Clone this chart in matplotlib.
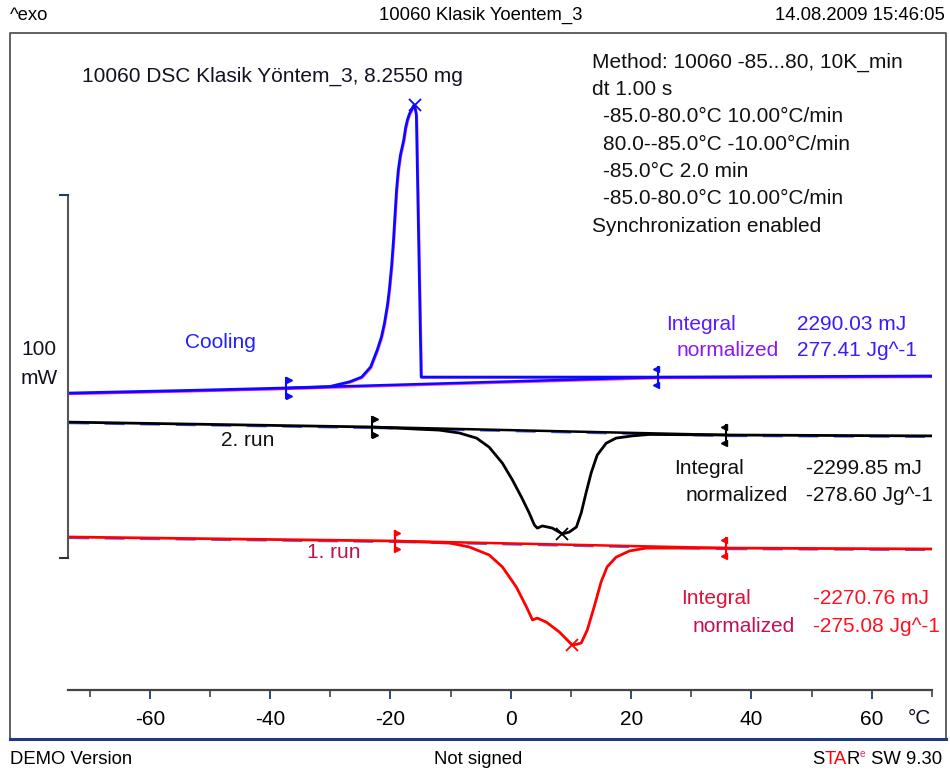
import numpy as np
import matplotlib
matplotlib.use("Agg")
import matplotlib.pyplot as plt
import matplotlib.transforms as mtransforms
from matplotlib import font_manager
from matplotlib.lines import Line2D

# temperature (°C) and heat flow (mW, curves stacked with their display offsets)
cool_T = [-73.6, -51.7, -37.3, -30.1, -26.8, -24.8, -23.3, -22.2, -21.5, -21.0,
          -20.5, -20.2, -19.8, -19.5, -19.25, -19.0, -18.7, -18.35, -17.8, -17.5,
          -17.2, -16.85, -16.5, -16.2, -16.0, -15.7, -14.9, -1.9, 24.5, 69.8]
cool_mW = [81.8, 82.6, 83.2, 83.6, 84.9, 86.2, 89.0, 93.7, 97.3, 101.1,
           106.1, 110.2, 117.1, 124.0, 130.9, 137.7, 143.3, 147.4, 151.5, 154.8,
           157.0, 158.7, 159.8, 160.9, 161.2, 158.4, 86.2, 86.2, 86.2, 86.5]

run2_T = [-73.6, -23.0, -11.9, -8.55, -5.7, -3.6, -1.4, 0.25, 1.75, 3.05, 3.9,
          4.4, 5.25, 6.9, 8.55, 9.7, 10.9, 11.7, 12.5, 13.35, 14.35, 15.85,
          17.5, 20.15, 23.0, 35.8, 69.8]
run2_mW = [73.8, 72.45, 71.6, 70.8, 69.4, 66.9, 62.5, 57.9, 53.2, 48.8, 45.5,
           44.6, 45.2, 44.6, 43.0, 43.5, 44.9, 48.8, 54.3, 59.8, 64.7, 68.0,
           69.4, 70.0, 70.4, 70.25, 70.0]

run1_T = [-73.6, -51.7, -19.3, -10.2, -6.9, -3.6, -1.4, 0.9, 2.6, 3.6, 4.4,
          5.9, 8.05, 10.2, 11.0, 11.7, 12.7, 13.85, 15.0, 16.0, 17.5, 19.7, 22.5,
          35.8, 69.8]
run1_mW = [42.15, 41.7, 41.05, 40.5, 39.4, 37.2, 33.9, 28.4, 22.9, 19.3, 19.8,
           18.7, 16.0, 12.4, 12.6, 12.95, 16.5, 22.9, 29.75, 33.9, 36.6, 38.3, 39.1,
           39.1, 38.85]

# integration limits (°C)
cool_lim = [-37.3, 24.5]
run2_lim = [-23.0, 35.8]
run1_lim = [-19.3, 35.8]

integrals = {
    "cool": ["2290.03 mJ", "277.41 Jg^-1"],
    "run2": ["-2299.85 mJ", "-278.60 Jg^-1"],
    "run1": ["-2270.76 mJ", "-275.08 Jg^-1"],
}

method_lines = [
    "Method: 10060 -85...80, 10K_min",
    "dt 1.00 s",
    "-85.0-80.0°C 10.00°C/min",
    "80.0--85.0°C -10.00°C/min",
    "-85.0°C 2.0 min",
    "-85.0-80.0°C 10.00°C/min",
    "Synchronization enabled",
]

plt.rcParams["font.family"] = ["Liberation Sans", "DejaVu Sans"]
plt.rcParams["axes.unicode_minus"] = False

names = {f.name for f in font_manager.fontManager.ttflist}
if "Liberation Sans Narrow" in names:
    narrow, nsize = ["Liberation Sans Narrow", "DejaVu Sans"], 15.5
else:
    narrow, nsize = ["Liberation Sans", "DejaVu Sans"], 13.3

W, H = 950, 774


def fx(px):
    return px / W


def fy(py):
    return 1 - py / H


fig = plt.figure(figsize=(W / 100, H / 100), dpi=100)
fig.patch.set_facecolor("white")

# outer frame
fig.add_artist(Line2D([fx(10), fx(10), fx(946), fx(946)], [fy(739), fy(33), fy(33), fy(739)],
                      color="#555555", lw=1.3))
fig.add_artist(Line2D([fx(10), fx(946)], [fy(739), fy(739)], color="#1f3a80", lw=2.2))

ax = fig.add_axes([fx(68), fy(690), (932 - 68) / W, (690 - 33) / H])
ax.set_xlim(-73.6, 69.8)
ax.set_ylim(0, 181.0)
ax.patch.set_visible(False)
for s in ["top", "right", "left"]:
    ax.spines[s].set_visible(False)
ax.spines["bottom"].set_color("#444444")
ax.spines["bottom"].set_linewidth(1.6)
ax.set_yticks([])
ax.set_xticks([-60, -40, -20, 0, 20, 40, 60])
ax.set_xticks(np.arange(-70, 71, 10), minor=True)
ax.tick_params(axis="x", which="major", length=6.5, width=1.3, color="#1f3a6e",
               pad=8, labelsize=15)
ax.tick_params(axis="x", which="minor", length=5, width=1.1, color="#333333")

# 1 px shifted copy of the data transform, used for the colour fringes
fringe = ax.transData + mtransforms.ScaledTranslation(1 / 100, -1 / 100, fig.dpi_scale_trans)


def limit_mark(T, xs, ys, color, side):
    y = np.interp(T, xs, ys)
    ax.plot([T, T], [y - 2.8, y + 2.8], color=color, lw=1.5, clip_on=False)
    m = ">" if side == 0 else "<"
    dx = 0.35 if side == 0 else -0.35
    ax.plot([T + dx, T + dx], [y - 2.1, y + 2.1], ls="none", marker=m, ms=4,
            color=color, clip_on=False)


def draw_run(xs, ys, lim, color, fringe_color, fringe_dashed):
    xs = np.asarray(xs)
    ys = np.asarray(ys)
    b0 = np.interp(lim[0], xs, ys)
    b1 = np.interp(lim[1], xs, ys)
    # fringe under the flat parts and the integration baseline
    kw = dict(color=fringe_color, lw=1.6, transform=fringe, alpha=0.8)
    if fringe_dashed:
        kw["dashes"] = (9, 7)
    left = xs <= lim[0]
    right = xs >= lim[1]
    ax.plot(np.r_[xs[left], lim[0]], np.r_[ys[left], b0], **kw)
    ax.plot(np.r_[lim[1], xs[right]], np.r_[b1, ys[right]], **kw)
    ax.plot(lim, [b0, b1], **kw)
    ax.plot(lim, [b0, b1], color=color, lw=1.8)
    ax.plot(xs, ys, color=color, lw=2.0, solid_joinstyle="round")
    limit_mark(lim[0], xs, ys, color, 0)
    limit_mark(lim[1], xs, ys, color, 1)


draw_run(cool_T, cool_mW, cool_lim, "#0a0aff", "#ff00ff", False)
ax.plot(cool_T, cool_mW, color="#ff00ff", lw=1.2, transform=fringe, alpha=0.6, zorder=1)
draw_run(run2_T, run2_mW, run2_lim, "black", "#2040ff", True)
draw_run(run1_T, run1_mW, run1_lim, "#ff0000", "#2040ff", True)

# peak markers
i = int(np.argmax(cool_mW))
ax.plot(cool_T[i], cool_mW[i], marker="x", ms=8, mew=1.3, color="#0a0aff")
i = int(np.argmin(run2_mW))
ax.plot(run2_T[i], run2_mW[i], marker="x", ms=8, mew=1.3, color="black")
i = int(np.argmin(run1_mW))
ax.plot(run1_T[i], run1_mW[i], marker="x", ms=8, mew=1.3, color="#ff0000")

# 100 mW scale bar
x0 = ax.get_xlim()[0]
y0 = 36.4
ax.plot([x0, x0], [y0, y0 + 100], color="#555555", lw=1.5, clip_on=False)
ax.plot([x0 - 1.3, x0], [y0 + 100, y0 + 100], color="#1f3a6e", lw=1.5, clip_on=False)
ax.plot([x0 - 1.3, x0], [y0, y0], color="#333333", lw=1.5, clip_on=False)
fig.text(fx(39), fy(349), "100", ha="center", va="center", fontsize=15, color="#111122")
fig.text(fx(39), fy(378), "mW", ha="center", va="center", fontsize=15, color="#111122")
fig.text(fx(919), fy(718), "°C", ha="center", va="center", fontsize=15, color="#111122")

# header / footer
fig.text(fx(10), fy(15), "^exo", ha="left", va="center", fontsize=nsize, family=narrow)
fig.text(fx(481), fy(15), "10060 Klasik Yoentem_3", ha="center", va="center",
         fontsize=nsize, family=narrow)
fig.text(fx(945), fy(15), "14.08.2009 15:46:05", ha="right", va="center",
         fontsize=nsize, family=narrow)
fig.text(fx(10), fy(759), "DEMO Version", ha="left", va="center", fontsize=nsize, family=narrow)
fig.text(fx(478), fy(759), "Not signed", ha="center", va="center", fontsize=nsize, family=narrow)

renderer = fig.canvas.get_renderer()
x = 812
for s, c, size, dy in [("S", "black", nsize, 0), ("TA", "#ff0000", nsize, 0),
                       ("R", "black", nsize, 0), ("e", "#ff2050", nsize * 0.55, -5),
                       (" SW 9.30", "black", nsize, 0)]:
    t = fig.text(fx(x), fy(759 + dy), s, ha="left", va="center", fontsize=size,
                 family=narrow, color=c)
    x += t.get_window_extent(renderer).width

# sample / method annotations
fig.text(fx(82), fy(76), "10060 DSC Klasik Yöntem_3, 8.2550 mg", ha="left", va="center",
         fontsize=15, color="#111122")
for k, line in enumerate(method_lines):
    left = 603 if 2 <= k <= 5 else 592
    fig.text(fx(left), fy(62 + 27.4 * k), line, ha="left", va="center", fontsize=15,
             color="#111111")

fig.text(fx(185), fy(342), "Cooling", ha="left", va="center", fontsize=15, color="#2020ff")
fig.text(fx(221), fy(440), "2. run", ha="left", va="center", fontsize=15, color="#111111")
fig.text(fx(307), fy(552), "1. run", ha="left", va="center", fontsize=15, color="#c0104a")

fig.text(fx(666), fy(324), "Integral", ha="left", va="center", fontsize=15, color="#5a1aff")
fig.text(fx(677), fy(351), "normalized", ha="left", va="center", fontsize=15, color="#8a1aef")
fig.text(fx(797), fy(324), integrals["cool"][0], ha="left", va="center", fontsize=15, color="#3a1aff")
fig.text(fx(797), fy(351), integrals["cool"][1], ha="left", va="center", fontsize=15, color="#3a1aff")

fig.text(fx(674), fy(468), "Integral", ha="left", va="center", fontsize=15, color="#111111")
fig.text(fx(686), fy(496), "normalized", ha="left", va="center", fontsize=15, color="#111111")
fig.text(fx(806), fy(468), integrals["run2"][0], ha="left", va="center", fontsize=15, color="#111111")
fig.text(fx(806), fy(496), integrals["run2"][1], ha="left", va="center", fontsize=15, color="#111111")

fig.text(fx(681), fy(599), "Integral", ha="left", va="center", fontsize=15, color="#e0103a")
fig.text(fx(693), fy(627), "normalized", ha="left", va="center", fontsize=15, color="#c0105a")
fig.text(fx(813), fy(599), integrals["run1"][0], ha="left", va="center", fontsize=15, color="#ff1020")
fig.text(fx(813), fy(627), integrals["run1"][1], ha="left", va="center", fontsize=15, color="#ff1020")

fig.savefig("out.png", dpi=100)
